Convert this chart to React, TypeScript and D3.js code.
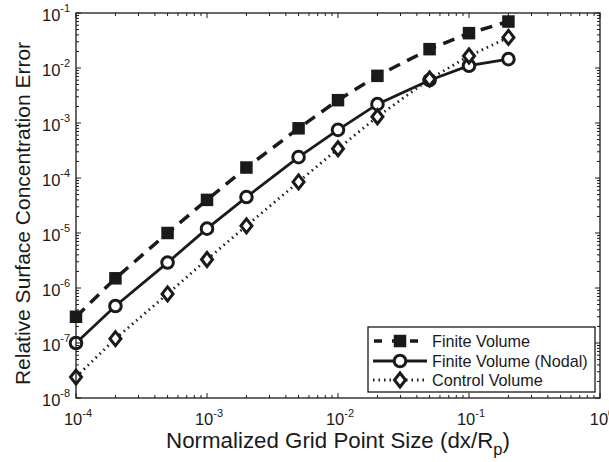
import React from "react";
import * as d3 from "d3";

const xValues = [1e-4, 2e-4, 5e-4, 1e-3, 2e-3, 5e-3, 1e-2, 2e-2, 5e-2, 1e-1, 2e-1];
const finiteVolume = [3.0e-7, 1.5e-6, 1.0e-5, 4.0e-5, 1.55e-4, 8.0e-4, 2.6e-3, 7.2e-3, 2.2e-2, 4.3e-2, 7.0e-2];
const finiteVolumeNodal = [1.0e-7, 4.7e-7, 2.9e-6, 1.2e-5, 4.5e-5, 2.4e-4, 7.5e-4, 2.2e-3, 6.0e-3, 1.1e-2, 1.45e-2];
const controlVolume = [2.4e-8, 1.2e-7, 7.8e-7, 3.3e-6, 1.35e-5, 8.5e-5, 3.4e-4, 1.3e-3, 6.3e-3, 1.65e-2, 3.6e-2];
const xTickExps = [-4, -3, -2, -1, 0];
const yTickExps = [-8, -7, -6, -5, -4, -3, -2, -1];
const seriesNames = ["Finite Volume", "Finite Volume (Nodal)", "Control Volume"];
const xLabel = "Normalized Grid Point Size (dx/R";
const xLabelSub = "p";
const yLabel = "Relative Surface Concentration Error";

const W = 609, H = 462;
const L = 76, R = 600, T = 13, B = 398;
const FONT = "'Liberation Sans', Arial, Helvetica, sans-serif";
const INK = "#1a1a1a";

export default function App() {
  const x = d3.scaleLog().domain([1e-4, 1]).range([L, R]);
  const y = d3.scaleLog().domain([1e-8, 1e-1]).range([B, T]);
  const line = d3.line<[number, number]>().x(d => x(d[0])).y(d => y(d[1]));
  const pts = (vals: number[]) => xValues.map((v, i) => [v, vals[i]] as [number, number]);

  const minorX: number[] = [];
  for (let e = -4; e < 0; e++) for (let m = 2; m <= 9; m++) minorX.push(m * Math.pow(10, e));
  const minorY: number[] = [];
  for (let e = -8; e < -1; e++) for (let m = 2; m <= 9; m++) minorY.push(m * Math.pow(10, e));

  const sq = (cx: number, cy: number, k: string | number) => (
    <rect key={k} x={cx - 5.5} y={cy - 5.5} width={11} height={11} fill={INK} stroke={INK} strokeWidth={1.5} />
  );
  const circ = (cx: number, cy: number, k: string | number) => (
    <circle key={k} cx={cx} cy={cy} r={5.8} fill="#fff" stroke={INK} strokeWidth={3} />
  );
  const dia = (cx: number, cy: number, k: string | number) => (
    <path key={k} d={`M${cx},${cy - 7}L${cx + 5.5},${cy}L${cx},${cy + 7}L${cx - 5.5},${cy}Z`} fill="#fff" stroke={INK} strokeWidth={3} />
  );

  const legX = 368, legY = 327, legW = 227, legH = 65;
  const legRows = [341, 361, 380];

  return (
    <svg width={W} height={H} style={{ position: "absolute", left: 0, top: 0, background: "#fff" }} fontFamily={FONT}>
      <rect x={0} y={0} width={W} height={H} fill="#fff" />
      {/* series lines */}
      <path d={line(pts(finiteVolume)) || ""} fill="none" stroke={INK} strokeWidth={3.5} strokeDasharray="12,8" />
      <path d={line(pts(finiteVolumeNodal)) || ""} fill="none" stroke={INK} strokeWidth={2.8} />
      <path d={line(pts(controlVolume)) || ""} fill="none" stroke={INK} strokeWidth={2.8} strokeDasharray="1.5,4" />
      {pts(finiteVolume).map((p, i) => sq(x(p[0]), y(p[1]), "s" + i))}
      {pts(finiteVolumeNodal).map((p, i) => circ(x(p[0]), y(p[1]), "c" + i))}
      {pts(controlVolume).map((p, i) => dia(x(p[0]), y(p[1]), "d" + i))}

      {/* axes box */}
      <rect x={L} y={T} width={R - L} height={B - T} fill="none" stroke={INK} strokeWidth={1.3} />
      {/* x ticks */}
      {xTickExps.map(e => {
        const px = x(Math.pow(10, e));
        return (
          <g key={"xt" + e}>
            <line x1={px} x2={px} y1={B} y2={B - 5} stroke={INK} strokeWidth={1} />
            <line x1={px} x2={px} y1={T} y2={T + 5} stroke={INK} strokeWidth={1} />
            <text x={px + 2} y={425} textAnchor="middle" fontSize={16.5} fill={INK}>
              10<tspan dy={-8} fontSize={11}>{e}</tspan>
            </text>
          </g>
        );
      })}
      {minorX.map((v, i) => (
        <g key={"xm" + i}>
          <line x1={x(v)} x2={x(v)} y1={B} y2={B - 3} stroke={INK} strokeWidth={1} />
          <line x1={x(v)} x2={x(v)} y1={T} y2={T + 3} stroke={INK} strokeWidth={1} />
        </g>
      ))}
      {/* y ticks */}
      {yTickExps.map(e => {
        const py = y(Math.pow(10, e));
        return (
          <g key={"yt" + e}>
            <line x1={L} x2={L + 5} y1={py} y2={py} stroke={INK} strokeWidth={1} />
            <line x1={R} x2={R - 5} y1={py} y2={py} stroke={INK} strokeWidth={1} />
            <text x={42} y={py + 8} fontSize={16.5} fill={INK}>
              10<tspan dy={-9} fontSize={11}>{e}</tspan>
            </text>
          </g>
        );
      })}
      {minorY.map((v, i) => (
        <g key={"ym" + i}>
          <line x1={L} x2={L + 3} y1={y(v)} y2={y(v)} stroke={INK} strokeWidth={1} />
          <line x1={R} x2={R - 3} y1={y(v)} y2={y(v)} stroke={INK} strokeWidth={1} />
        </g>
      ))}
      {/* axis labels */}
      <text x={338} y={448} textAnchor="middle" fontSize={22.3} fill={INK}>
        {xLabel}<tspan dy={7} fontSize={16.5}>{xLabelSub}</tspan><tspan dy={-7}>)</tspan>
      </text>
      <text transform={`translate(30,${(T + B) / 2 + 8}) rotate(-90)`} textAnchor="middle" fontSize={21} fill={INK}>
        {yLabel}
      </text>

      {/* legend */}
      <rect x={legX} y={legY} width={legW} height={legH} fill="#fff" stroke={INK} strokeWidth={1.3} />
      <line x1={373} x2={427} y1={legRows[0]} y2={legRows[0]} stroke={INK} strokeWidth={3.5} strokeDasharray="8,10" strokeDashoffset={-1} />
      {sq(400, legRows[0], "ls")}
      <line x1={373} x2={427} y1={legRows[1]} y2={legRows[1]} stroke={INK} strokeWidth={2.8} />
      {circ(400, legRows[1], "lc")}
      <line x1={373} x2={427} y1={legRows[2]} y2={legRows[2]} stroke={INK} strokeWidth={2.8} strokeDasharray="1.5,4" />
      {dia(400, legRows[2], "ld")}
      {seriesNames.map((n, i) => (
        <text key={n} x={432} y={legRows[i] + 5.5} fontSize={16.2} fill={INK}>{n}</text>
      ))}
    </svg>
  );
}
